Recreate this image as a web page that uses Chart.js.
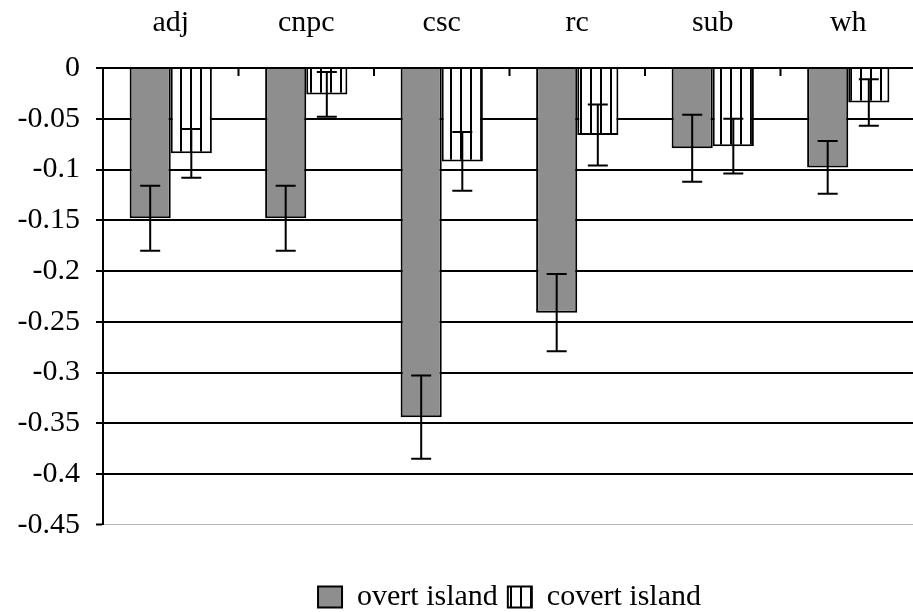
<!DOCTYPE html>
<html>
<head>
<meta charset="utf-8">
<script src="https://cdn.jsdelivr.net/npm/chart.js@4"></script>
<style>
  html, body { margin: 0; padding: 0; background: #fff; overflow: hidden; }
  #chart { display: block; }
</style>
</head>
<body>
<canvas id="chart" width="916" height="622"></canvas>
<script>
// data
const categories = ["adj", "cnpc", "csc", "rc", "sub", "wh"];
const overtValues = [-0.148, -0.148, -0.344, -0.241, -0.079, -0.098];
const overtErrors = [0.032, 0.032, 0.041, 0.038, 0.033, 0.026];
const covertValues = [-0.084, -0.026, -0.092, -0.066, -0.077, -0.034];
const covertErrors = [0.024, 0.022, 0.029, 0.030, 0.027, 0.023];
const yTickLabels = ["0", "-0.05", "-0.1", "-0.15", "-0.2", "-0.25", "-0.3", "-0.35", "-0.4", "-0.45"];

const serif = "'Liberation Serif', 'Times New Roman', serif";

// white with vertical black stripes
function stripePattern() {
  const c = document.createElement("canvas");
  c.width = 10;
  c.height = 10;
  const g = c.getContext("2d");
  g.fillStyle = "#fff";
  g.fillRect(0, 0, 10, 10);
  g.fillStyle = "#000";
  g.fillRect(0, 0, 2, 10);
  return g.createPattern(c, "repeat");
}

const errorBars = {
  id: "errorBars",
  afterDatasetsDraw(chart) {
    const ctx = chart.ctx;
    const y = chart.scales.y;
    const errs = [overtErrors, covertErrors];
    ctx.save();
    ctx.strokeStyle = "#000";
    ctx.lineWidth = 2;
    chart.data.datasets.forEach((ds, i) => {
      chart.getDatasetMeta(i).data.forEach((bar, j) => {
        const v = ds.data[j];
        const top = y.getPixelForValue(v + errs[i][j]);
        const bot = y.getPixelForValue(v - errs[i][j]);
        ctx.beginPath();
        ctx.moveTo(bar.x, top);
        ctx.lineTo(bar.x, bot);
        ctx.moveTo(bar.x - 10, top);
        ctx.lineTo(bar.x + 10, top);
        ctx.moveTo(bar.x - 10, bot);
        ctx.lineTo(bar.x + 10, bot);
        ctx.stroke();
      });
    });
    // little ticks between categories, hanging down from the top axis
    const x = chart.scales.x;
    const area = chart.chartArea;
    ctx.beginPath();
    for (let k = 1; k < categories.length; k++) {
      const px = (x.getPixelForTick(k - 1) + x.getPixelForTick(k)) / 2;
      ctx.moveTo(px, area.top);
      ctx.lineTo(px, area.top + 8);
    }
    ctx.stroke();
    ctx.restore();
  }
};

new Chart(document.getElementById("chart"), {
  type: "bar",
  data: {
    labels: categories,
    datasets: [
      {
        label: "overt island",
        data: overtValues,
        backgroundColor: "#8e8e8e",
        borderColor: "#000",
        borderWidth: 2
      },
      {
        label: "covert island",
        data: covertValues,
        backgroundColor: stripePattern(),
        borderColor: "#000",
        borderWidth: 2
      }
    ]
  },
  options: {
    responsive: false,
    animation: false,
    devicePixelRatio: 1,
    layout: { padding: 0 },
    datasets: {
      bar: { categoryPercentage: 0.607, barPercentage: 1 }
    },
    scales: {
      x: {
        position: "top",
        grid: { display: false, drawTicks: false },
        border: { display: true, color: "#000", width: 2 },
        ticks: {
          color: "#000",
          padding: 27,
          font: { family: serif, size: 30 }
        },
        afterFit: (axis) => { axis.height = 68; }
      },
      y: {
        min: -0.45,
        max: 0,
        ticks: {
          stepSize: 0.05,
          color: "#000",
          padding: 16,
          font: { family: serif, size: 30 },
          callback: (v, i, ticks) => yTickLabels[ticks.length - 1 - i]
        },
        grid: {
          color: (c) => (c.index === 0 ? "#b4b4b4" : "#000"),
          lineWidth: (c) => (c.index === 0 ? 1 : 2),
          tickColor: "#000",
          tickLength: 7,
          tickWidth: 2
        },
        border: { display: true, color: "#000", width: 2 },
        afterFit: (axis) => { axis.width = 103; }
      }
    },
    plugins: {
      tooltip: { enabled: false },
      legend: {
        position: "bottom",
        fullSize: false,
        title: { display: true, text: "", font: { size: 1 }, padding: { top: 0, bottom: 46 } },
        labels: {
          color: "#000",
          boxWidth: 24,
          boxHeight: 21,
          padding: 10,
          font: { family: serif, size: 30 }
        }
      }
    }
  },
  plugins: [errorBars]
});
</script>
</body>
</html>
